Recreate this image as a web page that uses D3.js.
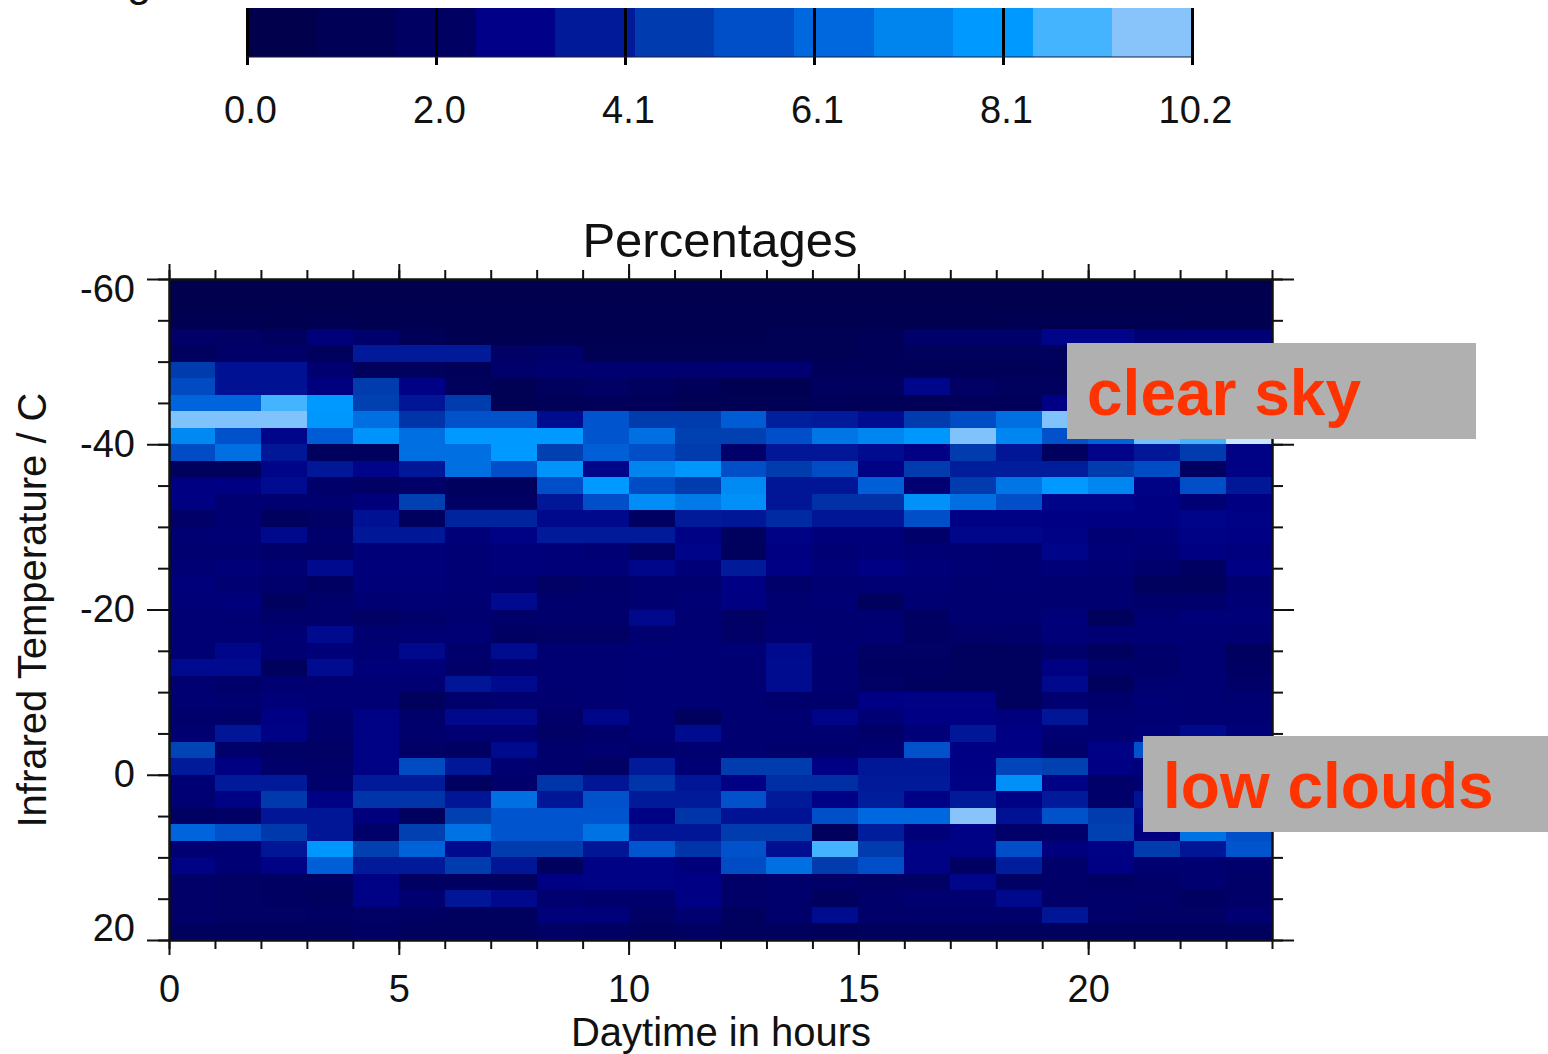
<!DOCTYPE html>
<html>
<head>
<meta charset="utf-8">
<script src="https://cdn.jsdelivr.net/npm/d3@7"></script>
<style>
  body { margin: 0; background: #fff; }
  svg { display: block; }
  text { font-family: "Liberation Sans", Arial, sans-serif; fill: #111; }
  .axis path, .axis line { stroke: #111; stroke-width: 2; }
  .axis text { font-size: 38px; }
  .bar-axis line { stroke: #000; stroke-width: 3; }
</style>
</head>
<body>
<svg></svg>
<script>
// percentages per hour (columns 0-23) for each 2 degree temperature bin, top (-60) to bottom (20)
const percentages = [
  [.3,.3,.3,.3,.3,.3,.3,.3,.3,.3,.3,.3,.3,.3,.3,.3,.3,.3,.3,.3,.3,.3,.3,.3],
  [.3,.3,.3,.3,.3,.3,.3,.3,.3,.3,.3,.3,.3,.3,.3,.3,.3,.3,.3,.3,.3,.3,.3,.3],
  [.5,.5,.4,.5,.4,.4,.4,.4,.4,.4,.4,.4,.4,.4,.4,.4,.4,.4,.5,.5,.5,.5,.4,.4],
  [1.3,1.2,1,2,1.5,.7,.5,.5,.5,.5,.5,.5,.5,.6,.6,.7,1.4,1.4,1.4,2.6,2.6,1.8,1.8,1.8],
  [1,1.3,1.3,.9,3.6,3.6,3.6,1.2,1.4,.6,.6,.6,.6,.6,.6,.7,.9,.9,.9,.9,1,1,1,1.2],
  [4.6,3.2,3.2,1.6,.9,.9,.8,1.5,1.6,1.6,1.6,1.6,1.7,1.7,.8,.8,.7,.7,.7,.8,.8,.8,.9,1],
  [5.3,3.2,3.2,2.2,4.6,2.5,.9,.6,1,1.2,1,.7,.5,.5,1,1,2.7,1.2,.9,1,1,1,1,1],
  [6.3,6.3,8.9,8.1,4.7,3.4,4.6,.6,.7,.8,.8,.6,.6,.6,.8,.7,.7,.8,.8,2.4,1.2,1.2,1.2,1.2],
  [9.7,9.7,9.7,8,6.6,4.4,5.6,5.6,3,5.7,4.6,4.6,6,3.8,3.6,3,4.6,5.4,6.6,9.7,7,6,6,5],
  [7.4,5.6,2.7,6,7.9,6.6,8.1,8.1,8.1,5.7,6.6,4.7,4.7,5.5,6.8,7.3,8,9.7,7.3,5.6,6.2,9.5,8.9,10.2],
  [5.4,6.6,3.5,.9,.9,6.6,6.6,8.1,4.7,6.1,5.5,4.6,1.4,3.5,3.5,3,2.4,4.6,3.4,1,2.6,3.5,4.6,2.5],
  [.9,.9,2.6,3.5,2.6,3.5,6.6,5.5,7.9,2.7,7.2,8,5.5,4.6,5.4,2.5,4.6,3.7,3.7,3.7,4.6,5.4,1.1,2.5],
  [2.3,2.3,3,1.4,1.2,1.3,1,.9,5.5,8.1,5.4,4.6,7.5,3.4,3.4,6.1,1.7,4.6,6.8,8.1,7.3,2.5,5.5,3.5],
  [2.3,1.7,1.6,1.6,2,4.7,1.2,1.2,3.5,5.5,7.6,6.9,7.7,3.4,4.3,4.3,7.8,6.6,5.5,2.6,2.6,2.3,1.8,2.3],
  [1.3,1.7,1,1.2,3.2,1,3.9,3.9,2.8,2.8,1.1,3.6,3.5,4.1,3.4,3.4,5.5,2.5,2.5,2.4,2.3,2.3,2.6,2.5],
  [1.7,1.8,2.8,1.5,3.5,3.5,1.9,2.5,3.6,3.6,3.6,2.5,1,2.5,2,2,1.4,2.7,2.7,2.5,1.8,1.9,2.5,2.4],
  [1.6,1.6,1.4,1.3,1.9,1.9,1.8,2,1.9,1.8,1.2,2.6,.9,2.3,1.8,1.9,1.8,1.7,1.6,2.6,1.9,1.8,2.3,2.2],
  [1.8,1.9,1.7,2.9,2,2,1.8,2,1.9,1.9,2.7,1.9,3.6,2.4,1.9,2.4,1.9,1.8,1.7,1.9,1.8,1.5,1.1,2.4],
  [2,1.7,1.5,1.1,1.9,1.9,1.8,1.7,1.2,1.4,1.6,1.6,2.4,1.4,1.7,1.8,1.8,1.6,1.7,1.6,1.6,1,.9,1.6],
  [1.9,2,1,1.4,1.7,1.8,1.7,2.9,1.5,1.5,1.6,1.8,2.3,1.6,1.8,1,1.7,1.6,1.6,1.6,1.6,1.4,1.5,1.8],
  [1.8,1.7,1.4,1.5,1.2,1.4,1.6,1.4,1.5,1.5,2.8,1.7,1.2,1.6,1.6,1.6,1.1,1.6,1.6,1.9,.9,1.7,1.9,1.9],
  [1.8,1.8,1.7,2.9,1.6,1.7,1.8,1.1,1.2,1.2,1.6,1.7,1.3,1.7,1.6,1.7,1.1,1.3,1.4,1.9,1.7,1.8,1.8,1.7],
  [1.8,2.7,1.7,1.9,1.8,2.8,1.5,3,1.7,1.7,1.8,1.8,1.8,2.9,1.7,1.2,1.2,1,1,1.4,1,1.5,1.7,1],
  [2.9,2.9,.9,3,1.9,1.9,1.3,1.6,1.7,1.7,1.8,1.8,1.7,3,1.6,1.1,1.1,1,1,2.3,1.5,1.4,1.7,1.1],
  [1.6,1.4,1.7,1.7,1.8,1.7,3.4,2.9,1.7,1.7,1.8,1.8,1.7,3,1.6,1.2,1,1,1,2.8,.9,1.6,1.7,1.3],
  [1.7,1.6,1.9,1.8,1.8,.9,1.5,1.6,1.6,1.7,1.8,1.8,1.7,1.5,1.5,2.4,2.5,2.5,1,1.6,1.5,1.8,1.7,1.6],
  [1.5,1.4,2.4,1.5,2.5,1.4,2.8,2.8,1.3,2.7,1.8,.9,1.7,1.7,2.6,1.8,2.4,2.4,2.2,3.4,1.7,1.8,1.7,1.7],
  [1.6,3.4,2.5,1.4,2.5,1.5,1.7,1.7,1.2,1.5,1.8,3,1.6,1.6,1.6,1.3,1.9,3.5,2.4,1.7,1.7,1.9,2.8,1.9],
  [4.9,1.4,1.2,1.2,2.5,1.2,1.1,2.9,1.5,1.6,1.5,1.6,1.6,1.5,1.5,1.6,5.6,2.4,2.4,1.5,2.5,5.6,2,2],
  [3.6,2.3,1.4,1.3,2.5,5.3,3.5,1.6,1.5,1.2,3.6,1.8,4.6,4.6,2.4,3.5,3.5,2.4,5,4.7,2.4,2,2,2],
  [1.8,3.6,3.6,1.5,3.6,3.6,1,1.4,4.4,3.4,4.4,3.4,2.4,4.2,4.2,3.6,3.6,2.5,7.7,2.5,1.3,1.6,2.5,2.3],
  [1.7,2.5,4.5,2.5,4.4,4.4,3.4,6.6,3.4,5.6,3.6,3.6,5.6,3.6,2.5,3.7,2.5,3.6,2.5,3.6,1.4,3.3,2.5,2.3],
  [1.1,1.2,3.4,3.4,2.1,.9,4.7,5.7,5.7,5.7,2.5,4.4,3.3,3.3,5.5,6.4,6.4,9.8,3.2,5.6,4.6,2.6,3,3],
  [6.3,5.6,4.5,3.4,1.4,4.7,6.7,5.7,5.7,6.7,3.4,3.4,4.6,4.6,.9,3.7,1.9,2.5,1.4,1.4,4.7,2.2,6.7,5.5],
  [1.7,1.8,3.4,8,4.7,6.2,2.9,4.6,4.6,3.4,5.7,4.4,5.6,3.1,8.9,4.6,2.5,2.5,5.5,2.2,2.5,4.6,3.4,5.7],
  [2.5,1.8,2.5,6.1,3.6,3.6,4.6,3.4,1,2.5,2.5,2,5.4,6.6,4.6,5.5,2.5,1.1,3.7,1.4,2.4,1.6,1.6,1.5],
  [1.3,1.2,1.1,1.1,2.5,1.1,1.1,1,2.4,2.5,2.5,2.4,1.3,1.5,1.3,1.2,1.2,2.7,1.2,1.3,1.1,1.3,1.6,1.3],
  [1.3,1.2,1.1,1,2.5,1.6,3.4,2.8,1.6,1.5,1.5,2.4,1.3,1.5,1,1.4,1.6,1.6,2.8,1.3,1.4,1.3,1.1,1.3],
  [1.3,1.2,1.2,1.1,1.2,1.1,1,1,2,2,1.2,1.6,1,1.4,3,1.3,1.4,1.4,1.4,3.4,1.3,1.2,1.2,1.6],
  [1,1,1,1,1.1,1,1,1,1.2,1.1,1,1.1,.9,1,.8,.9,.9,1,.9,1,.9,.9,.9,1]
];
const hours = d3.range(24);
const tempBins = d3.range(40);
const hourMajor = [0, 5, 10, 15, 20];
const hourMinor = d3.range(0, 25);
const tempMajor = [-60, -40, -20, 0, 20];
const tempMinor = d3.range(-60, 21, 5);
const barColors = ['#00004c', '#000056', '#000062', '#000088', '#001a9a', '#003cb0',
                   '#004ec8', '#0068de', '#0084ee', '#0099ff', '#44b4ff', '#88c4fa'];
const barMax = 10.2;
const barTicks = [0, 2.04, 4.08, 6.12, 8.16, 10.2];
const barLabels = ['0.0', '2.0', '4.1', '6.1', '8.1', '10.2'];
const cellStops = [.3, 1, 1.6, 2.4, 3, 3.8, 4.7, 5.5, 6.4, 7.2, 8.1, 8.9, 9.8, 10.2];
const cellColors = ['#00004e', '#00005f', '#000070', '#000084', '#000c90', '#001f9c', '#0040b0',
                    '#004ec8', '#0068de', '#0084ee', '#0099ff', '#44b4ff', '#88c4fa', '#c8e6ff'];
const notes = ['clear sky', 'low clouds'];

const svg = d3.select('svg').attr('width', 1548).attr('height', 1054);

const plot = {left: 169, right: 1272, top: 279, bottom: 940};
const bar = {left: 247, right: 1192, top: 8, bottom: 57};

const x = d3.scaleLinear().domain([0, 24]).range([plot.left, plot.right]);
const y = d3.scaleLinear().domain([-60, 20]).range([plot.top, plot.bottom]);
const colScale = d3.scaleBand().domain(hours).range([plot.left, plot.right]);
const rowScale = d3.scaleBand().domain(tempBins).range([plot.top, plot.bottom]);

const color = d3.scaleLinear()
    .domain(cellStops)
    .range(cellColors)
    .clamp(true);

// clipped bit of a heading above the page
svg.append('text').attr('x', 127).attr('y', -4).style('font-size', '44px').text('g');

// colour bar, bands counted back from the top value so the first one is cut short
const barX = d3.scaleLinear().domain([0, barMax]).range([bar.left, bar.right]);
const bandWidth = 0.859;
const bandStart = i => Math.max(0, barMax - (barColors.length - i) * bandWidth);
svg.append('g').selectAll('rect')
    .data(barColors)
    .enter().append('rect')
    .attr('x', (d, i) => barX(bandStart(i)))
    .attr('y', bar.top)
    .attr('width', (d, i) => barX(i === barColors.length - 1 ? barMax : bandStart(i + 1)) - barX(bandStart(i)))
    .attr('height', bar.bottom - bar.top)
    .attr('shape-rendering', 'crispEdges')
    .style('fill', d => d);

svg.append('g')
    .attr('class', 'axis bar-axis')
    .attr('transform', 'translate(0,' + bar.top + ')')
    .call(d3.axisBottom(barX).tickValues(barTicks).tickSize(bar.bottom + 8 - bar.top).tickPadding(31)
      .tickFormat((d, i) => barLabels[i]))
    .call(g => g.select('.domain').remove())
    .selectAll('text').attr('dx', 3);

svg.append('line')
    .attr('x1', bar.left).attr('x2', bar.right)
    .attr('y1', bar.bottom).attr('y2', bar.bottom)
    .style('stroke', '#1a1a3a').style('stroke-width', 1);

// heatmap cells
svg.append('g').selectAll('g')
    .data(percentages)
    .enter().append('g')
    .attr('transform', (d, i) => 'translate(0,' + rowScale(i) + ')')
    .selectAll('rect')
    .data(d => d)
    .enter().append('rect')
    .attr('x', (d, i) => colScale(i))
    .attr('width', colScale.bandwidth() + 0.5)
    .attr('height', rowScale.bandwidth() + 0.5)
    .attr('shape-rendering', 'crispEdges')
    .style('fill', d => color(d));

// axes on all four sides, minor ticks first
function noLabels(g) { g.selectAll('text').remove(); }

svg.append('g').attr('class', 'axis').attr('transform', 'translate(0,' + plot.bottom + ')')
    .call(d3.axisBottom(x).tickValues(hourMinor).tickSize(9).tickSizeOuter(0)).call(noLabels);
svg.append('g').attr('class', 'axis').attr('transform', 'translate(0,' + plot.bottom + ')')
    .call(d3.axisBottom(x).tickValues(hourMajor).tickSize(15).tickSizeOuter(0).tickPadding(20));
svg.append('g').attr('class', 'axis').attr('transform', 'translate(0,' + plot.top + ')')
    .call(d3.axisTop(x).tickValues(hourMinor).tickSize(9).tickSizeOuter(0)).call(noLabels);
svg.append('g').attr('class', 'axis').attr('transform', 'translate(0,' + plot.top + ')')
    .call(d3.axisTop(x).tickValues(hourMajor).tickSize(15).tickSizeOuter(0)).call(noLabels);

svg.append('g').attr('class', 'axis').attr('transform', 'translate(' + plot.left + ',0)')
    .call(d3.axisLeft(y).tickValues(tempMinor).tickSize(11).tickSizeOuter(0)).call(noLabels);
svg.append('g').attr('class', 'axis').attr('transform', 'translate(' + plot.left + ',0)')
    .call(d3.axisLeft(y).tickValues(tempMajor).tickSize(22).tickSizeOuter(0).tickPadding(12)
      .tickFormat(d => String(d)))
    .selectAll('text')
    // the end labels sit inside the axis range
    .attr('dy', d => d === -60 ? 22 : d === 20 ? 0 : 12);
svg.append('g').attr('class', 'axis').attr('transform', 'translate(' + plot.right + ',0)')
    .call(d3.axisRight(y).tickValues(tempMinor).tickSize(11).tickSizeOuter(0)).call(noLabels);
svg.append('g').attr('class', 'axis').attr('transform', 'translate(' + plot.right + ',0)')
    .call(d3.axisRight(y).tickValues(tempMajor).tickSize(22).tickSizeOuter(0)).call(noLabels);

// titles
svg.append('text')
    .attr('x', 720).attr('y', 257)
    .attr('text-anchor', 'middle')
    .style('font-size', '49px')
    .text('Percentages');

svg.append('text')
    .attr('x', 721).attr('y', 1046)
    .attr('text-anchor', 'middle')
    .style('font-size', '40px')
    .text('Daytime in hours');

svg.append('text')
    .attr('transform', 'translate(46,610) rotate(-90)')
    .attr('text-anchor', 'middle')
    .style('font-size', '40px')
    .text('Infrared Temperature / C');

// grey note boxes drawn over the plot
const boxes = [
  {x: 1067, y: 343, w: 409, h: 96, tx: 1087, ty: 415},
  {x: 1143, y: 736, w: 405, h: 96, tx: 1163, ty: 808}
];
const note = svg.append('g').selectAll('g')
    .data(boxes)
    .enter().append('g');

note.append('rect')
    .attr('x', d => d.x).attr('y', d => d.y)
    .attr('width', d => d.w).attr('height', d => d.h)
    .style('fill', '#b0b0b0');

note.append('text')
    .attr('x', d => d.tx).attr('y', d => d.ty)
    .style('font-size', '64px')
    .style('font-weight', 'bold')
    .style('fill', '#ff3300')
    .text((d, i) => notes[i]);
</script>
</body>
</html>
